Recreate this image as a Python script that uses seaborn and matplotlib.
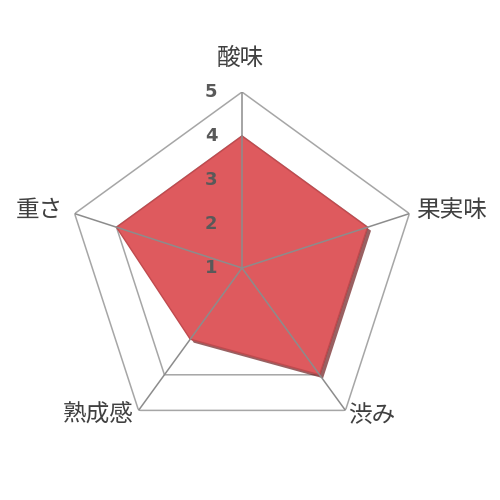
import numpy as np
import pandas as pd
import matplotlib
matplotlib.use("Agg")
import matplotlib.pyplot as plt
import matplotlib.patheffects as pe
import seaborn as sns

# taste profile values (radial scale runs 1..5)
categories = ["酸味", "果実味", "渋み", "熟成感", "重さ"]
values = [4, 4, 4, 3, 4]
ring_levels = [1, 2, 3, 4, 5]

df = pd.DataFrame({"category": categories, "value": values})

sns.set_theme(style="white")
plt.rcParams["font.family"] = ["Noto Sans CJK JP", "DejaVu Sans"]

fig = plt.figure(figsize=(5, 5), dpi=100)
ax = fig.add_axes([0.132, 0.112, 0.704, 0.704], projection="polar")
ax.set_theta_offset(np.pi / 2)
ax.set_theta_direction(-1)
ax.set_ylim(1, 5)
ax.grid(False)
ax.spines["polar"].set_visible(False)
ax.set_xticks([])
ax.set_yticks([])

n = len(df)
angles = np.linspace(0, 2 * np.pi, n, endpoint=False)
closed = np.append(angles, angles[0])

grid_col = "#a6a6a6"
# pentagon rings (under the fill)
for lvl in ring_levels[1:]:
    ax.plot(closed, [lvl] * (n + 1), color=grid_col, lw=1.1, zorder=1)

vals = np.append(df["value"].values, df["value"].values[0])
ax.fill(closed, vals, facecolor="#de5a5e", edgecolor="#c04a4e", lw=1.0, zorder=2,
        path_effects=[pe.SimplePatchShadow(offset=(2.5, -2.5), shadow_rgbFace="#6e1c1e", alpha=0.7),
                      pe.Normal()])

# spokes drawn on top of the fill
for a in angles:
    ax.plot([a, a], [1, 5], color="#8c8c8c", lw=1.1, zorder=3)

# radial tick labels left of the top spoke
for lvl in ring_levels:
    ax.annotate(str(lvl), xy=(0, lvl), xytext=(-31, 0), textcoords="offset pixels",
                ha="center", va="center", fontsize=13, fontweight="bold",
                color="#595959", family=["DejaVu Sans"], zorder=4)

# category labels, anchored next to the outer vertices
label_place = [((-2, 34), "center"), ((7, 3), "left"), ((3, -5), "left"),
               ((-5, -5), "right"), ((-12, 3), "right")]
for a, lab, (off, ha) in zip(angles, df["category"], label_place):
    ax.annotate(lab, xy=(a, 5), xytext=off, textcoords="offset pixels",
                ha=ha, va="center", fontsize=17, color="#404040", zorder=4,
                annotation_clip=False)

fig.savefig("out.png", dpi=100)
